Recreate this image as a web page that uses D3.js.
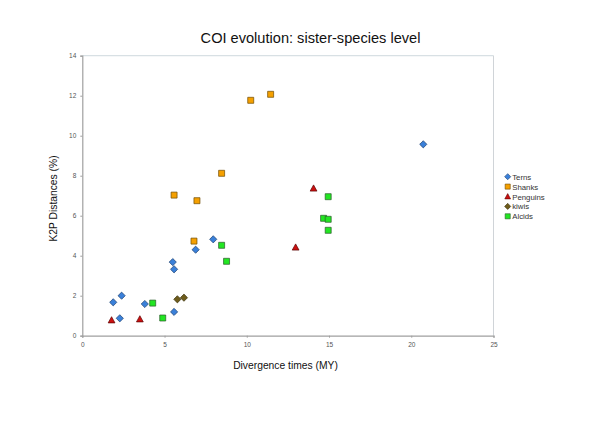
<!DOCTYPE html>
<html><head><meta charset="utf-8">
<script src="https://cdn.jsdelivr.net/npm/d3@7"></script>
<style>body{margin:0;background:#fff}svg{display:block}</style>
</head><body>
<svg id="c" width="600" height="421"></svg>
<script>
const xTicks = [0,5,10,15,20,25];
const yTicks = [0,2,4,6,8,10,12,14];
const seriesNames = ["Terns","Shanks","Penguins","kiwis","Alcids"];
const ternsX = [1.88,2.39,2.28,3.8,5.5,5.58,5.58,6.89,7.96,20.73];
const ternsY = [1.67,2.0,0.87,1.585,3.68,3.32,1.19,4.3,4.82,9.57];
const shanksX = [5.58,6.97,8.47,10.24,11.45,6.79];
const shanksY = [7.03,6.75,8.12,11.77,12.07,4.73];
const penguinsX = [1.78,3.5,12.97,14.06];
const penguinsY = [0.78,0.83,4.42,7.37];
const kiwisX = [5.78,6.18];
const kiwisY = [1.82,1.9];
const alcidsX = [4.28,4.89,8.47,8.77,14.95,14.67,14.95,14.95];
const alcidsY = [1.63,0.885,4.52,3.72,6.95,5.87,5.82,5.27];

const series = [
  {name:seriesNames[0], xs:ternsX, ys:ternsY, shape:"diamond", fill:"#3a80d9", stroke:"#1d3f6e"},
  {name:seriesNames[1], xs:shanksX, ys:shanksY, shape:"square", fill:"#f5a000", stroke:"#6e4a00"},
  {name:seriesNames[2], xs:penguinsX, ys:penguinsY, shape:"triangle", fill:"#cc1010", stroke:"#5a0000"},
  {name:seriesNames[3], xs:kiwisX, ys:kiwisY, shape:"diamond", fill:"#6e5c1c", stroke:"#3a300c"},
  {name:seriesNames[4], xs:alcidsX, ys:alcidsY, shape:"square", fill:"#22e622", stroke:"#2a5a2a"}
];

const svg = d3.select("#c");
const x = d3.scaleLinear().domain([0,25]).range([82.3,493.5]);
const y = d3.scaleLinear().domain([0,14]).range([335.7,55.7]);
const font = "Liberation Sans, Arial, sans-serif";

// frame: top and right light lines
svg.append("line").attr("x1",x(0)).attr("x2",x(25)).attr("y1",y(14)).attr("y2",y(14)).attr("stroke","#d8e0e4").attr("stroke-width",1.2);
svg.append("line").attr("x1",x(25)).attr("x2",x(25)).attr("y1",y(14)).attr("y2",y(0)).attr("stroke","#d0d4d8").attr("stroke-width",1);

const xAxis = svg.append("g").attr("transform",`translate(0,${y(0)})`)
  .call(d3.axisBottom(x).tickValues(xTicks).tickSize(2).tickPadding(5).tickFormat(d3.format("d")));
const yAxis = svg.append("g").attr("transform",`translate(${x(0)},0)`)
  .call(d3.axisLeft(y).tickValues(yTicks).tickSize(2).tickPadding(4).tickFormat(d3.format("d")));
[xAxis,yAxis].forEach(a=>{
  a.select(".domain").attr("stroke","#a0a0a0").attr("stroke-width",1.2);
  a.selectAll(".tick line").attr("stroke","#a0a0a0");
  a.selectAll(".tick text").attr("fill","#555").attr("font-size",6.5).attr("font-family",font);
});

function shapePath(shape){
  if(shape==="diamond") return "M0,-3.6L3.6,0L0,3.6L-3.6,0Z";
  if(shape==="square") return "M-3,-3H3V3H-3Z";
  return "M0,-3.4L3.4,2.8H-3.4Z";
}

series.forEach(s=>{
  svg.append("g").selectAll("path").data(s.xs.map((v,i)=>[v,s.ys[i]])).join("path")
    .attr("d",shapePath(s.shape))
    .attr("transform",d=>`translate(${x(d[0])},${y(d[1])})`)
    .attr("fill",s.fill).attr("stroke",s.stroke).attr("stroke-width",0.7);
});

// legend
const lg = svg.append("g").attr("transform","translate(507.7,176.7)");
series.forEach((s,i)=>{
  const g = lg.append("g").attr("transform",`translate(0,${i*9.9})`);
  g.append("path").attr("d",shapePath(s.shape)).attr("transform","scale(0.85)")
    .attr("fill",s.fill).attr("stroke",s.stroke).attr("stroke-width",0.7);
  g.append("text").attr("x",4.5).attr("y",3).text(s.name)
    .attr("font-size",7.8).attr("font-family",font).attr("fill","#333");
});

svg.append("text").attr("x",310.5).attr("y",42.5).attr("text-anchor","middle")
  .attr("font-size",14.6).attr("font-family",font).attr("fill","#111")
  .text("COI evolution: sister-species level");
svg.append("text").attr("x",285.5).attr("y",368.5).attr("text-anchor","middle")
  .attr("font-size",10.3).attr("font-family",font).attr("fill","#111")
  .text("Divergence times (MY)");
svg.append("text").attr("transform","translate(57,198.5) rotate(-90)").attr("text-anchor","middle")
  .attr("font-size",10.3).attr("font-family",font).attr("fill","#111")
  .text("K2P Distances (%)");
</script>
</body></html>
